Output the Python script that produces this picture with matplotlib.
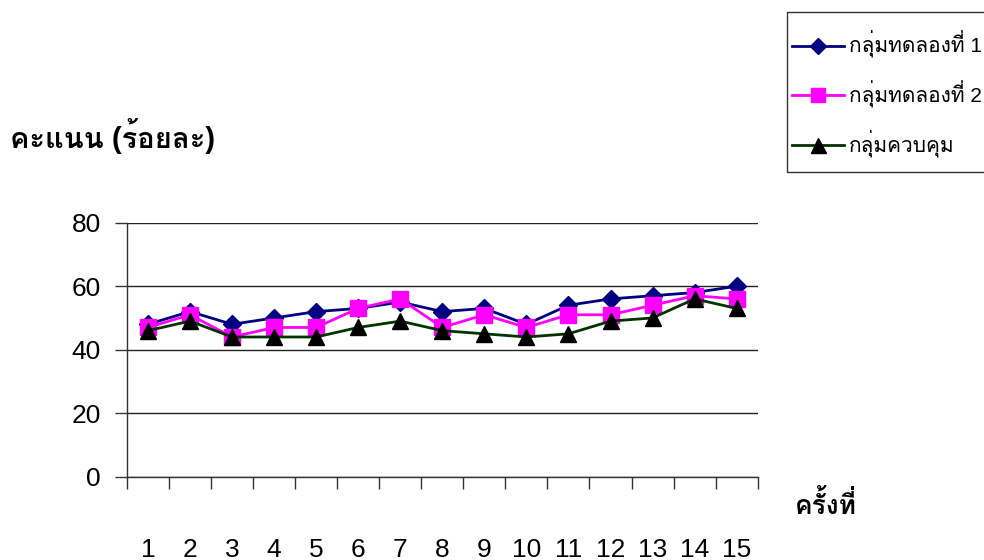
import numpy as np
import matplotlib
matplotlib.use('Agg')
import matplotlib.pyplot as plt
from matplotlib.patches import Rectangle

# ข้อมูลคะแนนแต่ละครั้ง (ร้อยละ)
sessions = list(range(1, 16))
group1 = [48, 52, 48, 50, 52, 53, 55, 52, 53, 48, 54, 56, 57, 58, 60]
group2 = [47, 51, 44, 47, 47, 53, 56, 47, 51, 47, 51, 51, 54, 57, 56]
control = [46, 49, 44, 44, 44, 47, 49, 46, 45, 44, 45, 49, 50, 56, 53]
labels = ['กลุ่มทดลองที่ 1', 'กลุ่มทดลองที่ 2', 'กลุ่มควบคุม']
yticks = [0, 20, 40, 60, 80]

thai = ['Liberation Sans', 'Loma', 'DejaVu Sans']
plt.rcParams['font.family'] = thai

fig = plt.figure(figsize=(9.84, 5.6), dpi=100)
ax = fig.add_axes([0.129, 0.1488, 0.641, 0.4535])

x = np.array(sessions)
ax.plot(x, group1, color='#000080', lw=2, marker='D', ms=9,
        mfc='#000080', mec='#000080', label=labels[0], zorder=3)
ax.plot(x, group2, color='#FF00FF', lw=2, marker='s', ms=11,
        mfc='#FF00FF', mec='#FF00FF', label=labels[1], zorder=4)
ax.plot(x, control, color='#003300', lw=2, marker='^', ms=12,
        mfc='black', mec='black', label=labels[2], zorder=5)

ax.set_xlim(0.5, 15.5)
ax.set_ylim(0, 80)
ax.set_yticks(yticks)
ax.tick_params(axis='y', length=8.6, width=1, pad=10, labelsize=19, color='#333333')
ax.yaxis.grid(True, color='#222222', lw=1)
ax.set_axisbelow(True)

# ขีดแบ่งช่วงอยู่ระหว่างหมวด, ตัวเลขอยู่กลางช่วง
ax.set_xticks(np.arange(0.5, 16, 1))
ax.set_xticklabels([])
ax.set_xticks(x, minor=True)
ax.set_xticklabels([str(s) for s in sessions], minor=True)
ax.tick_params(axis='x', which='major', direction='out', length=8.6, width=1, color='#333333')
ax.tick_params(axis='x', which='minor', length=0, pad=44, labelsize=19)

for side in ['top', 'right']:
    ax.spines[side].set_visible(False)
for side in ['left', 'bottom']:
    ax.spines[side].set_color('#333333')
    ax.spines[side].set_linewidth(1)

fig.text(10 / 984, 1 - 136 / 560, 'คะแนน (ร้อยละ)', fontsize=21, fontweight='bold',
         ha='left', va='center')
fig.text(826 / 984, 1 - 505 / 560, 'ครั้งที่', fontsize=19, fontweight='bold',
         ha='center', va='center')

# กรอบคำอธิบายสัญลักษณ์
fig.patches.append(Rectangle((787 / 984, 1 - 172 / 560), 0.3, 160 / 560,
                             transform=fig.transFigure, fill=False,
                             edgecolor='#333333', lw=1, zorder=1))
leg = fig.legend(loc='upper left', bbox_to_anchor=(792 / 984, 1 - 31 / 560),
                 frameon=False, fontsize=15, handlelength=2.5,
                 handletextpad=0.25, labelspacing=1.07, borderpad=0,
                 borderaxespad=0, markerscale=0.9)

fig.savefig('out.png', dpi=100)
